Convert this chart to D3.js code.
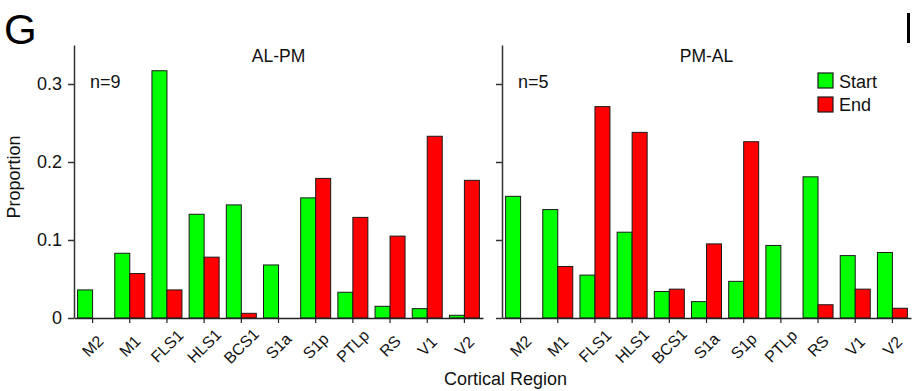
<!DOCTYPE html>
<html><head><meta charset="utf-8">
<script src="https://cdn.jsdelivr.net/npm/d3@7"></script>
<style>
body{margin:0;background:#fff;}
svg{display:block;font-family:"Liberation Sans",Arial,sans-serif;}
</style></head>
<body><svg id="c" width="913" height="391"></svg>
<script>
const regions = ["M2","M1","FLS1","HLS1","BCS1","S1a","S1p","PTLp","RS","V1","V2"];
const alpmStart = [0.036,0.083,0.317,0.133,0.145,0.068,0.154,0.033,0.015,0.012,0.0035];
const alpmEnd   = [0,0.057,0.036,0.078,0.006,0,0.179,0.129,0.105,0.233,0.1765];
const pmalStart = [0.156,0.139,0.055,0.110,0.034,0.021,0.047,0.093,0.181,0.080,0.084];
const pmalEnd   = [0,0.066,0.271,0.238,0.037,0.095,0.226,0,0.017,0.037,0.0125];
const yTicks = [0,0.1,0.2,0.3];
const yTickLabels = ["0","0.1","0.2","0.3"];
const panelTitles = ["AL-PM","PM-AL"];
const panelN = ["n=9","n=5"];
const seriesNames = ["Start","End"];
const colors = ["#00ff00","#ff0000"];

const svg = d3.select("#c");
const y = d3.scaleLinear().domain([0,0.35]).range([318,45]);

const panels = [
  {x0:74, x1:483, start:alpmStart, end:alpmEnd, title:panelTitles[0], n:panelN[0], labels:true},
  {x0:502, x1:911, start:pmalStart, end:pmalEnd, title:panelTitles[1], n:panelN[1], labels:false}
];

panels.forEach((p,pi)=>{
  const x = d3.scaleBand().domain(regions).range([p.x0,p.x1]).paddingInner(0).paddingOuter(0);
  const bw = 15;
  const g = svg.append("g");
  [p.start,p.end].forEach((vals,si)=>{
    g.selectAll(null).data(regions.map((r,i)=>({r,v:vals[i]})).filter(d=>d.v>0))
      .enter().append("rect")
      .attr("x",d=>x(d.r)+x.bandwidth()/2 + (si===0?-bw:0))
      .attr("y",d=>y(d.v))
      .attr("width",bw)
      .attr("height",d=>y(0)-y(d.v))
      .attr("fill",colors[si])
      .attr("stroke","#1a1a1a")
      .attr("stroke-width",1);
  });
  const ya = d3.axisLeft(y).tickValues(yTicks).tickSize(6).tickSizeOuter(0)
      .tickFormat((d,i)=>p.labels?yTickLabels[i]:"");
  const yg = g.append("g").attr("transform",`translate(${p.x0},0)`).call(ya);
  yg.select(".domain").attr("stroke","#333").attr("stroke-width",1.5);
  yg.selectAll(".tick line").attr("stroke","#333").attr("stroke-width",1.5);
  yg.selectAll(".tick text").attr("font-size","18px").attr("fill","#111")
    .attr("font-family","Liberation Sans, Arial, sans-serif").attr("x",-12);
  const xa = d3.axisBottom(x).tickSize(5).tickSizeOuter(0);
  const xg = g.append("g").attr("transform",`translate(0,${y(0)})`).call(xa);
  xg.select(".domain").attr("stroke","#222").attr("stroke-width",1.5);
  xg.selectAll(".tick line").attr("stroke","#222").attr("stroke-width",1.2);
  xg.selectAll(".tick text")
    .attr("font-size","16px").attr("fill","#111")
    .attr("font-family","Liberation Sans, Arial, sans-serif")
    .attr("text-anchor","middle")
    .attr("y",0).attr("dy","0.35em")
    .attr("transform","translate(0,28) rotate(-45)");
  g.append("text").attr("x",(p.x0+p.x1)/2).attr("y",62).attr("text-anchor","middle")
    .attr("font-size","17.5px").attr("fill","#111").text(p.title);
  g.append("text").attr("x",p.x0+16).attr("y",88)
    .attr("font-size","18px").attr("fill","#111").text(p.n);
});

seriesNames.forEach((s,i)=>{
  svg.append("rect").attr("x",818).attr("y",73+i*24).attr("width",15).attr("height",15)
    .attr("fill",colors[i]).attr("stroke","#1a1a1a").attr("stroke-width",1.2);
  svg.append("text").attr("x",839).attr("y",88+i*23).attr("font-size","18px").attr("fill","#111").text(s);
});

svg.append("text").attr("transform","translate(20,177) rotate(-90)").attr("text-anchor","middle")
  .attr("font-size","18px").attr("fill","#111").text("Proportion");
svg.append("text").attr("x",505.5).attr("y",385).attr("text-anchor","middle")
  .attr("font-size","18px").attr("fill","#111").text("Cortical Region");

svg.append("text").attr("x",4).attr("y",44).attr("font-size","42px").attr("fill","#000").text("G");
svg.append("rect").attr("x",907).attr("y",13).attr("width",3).attr("height",30).attr("fill","#000");
</script></body></html>
